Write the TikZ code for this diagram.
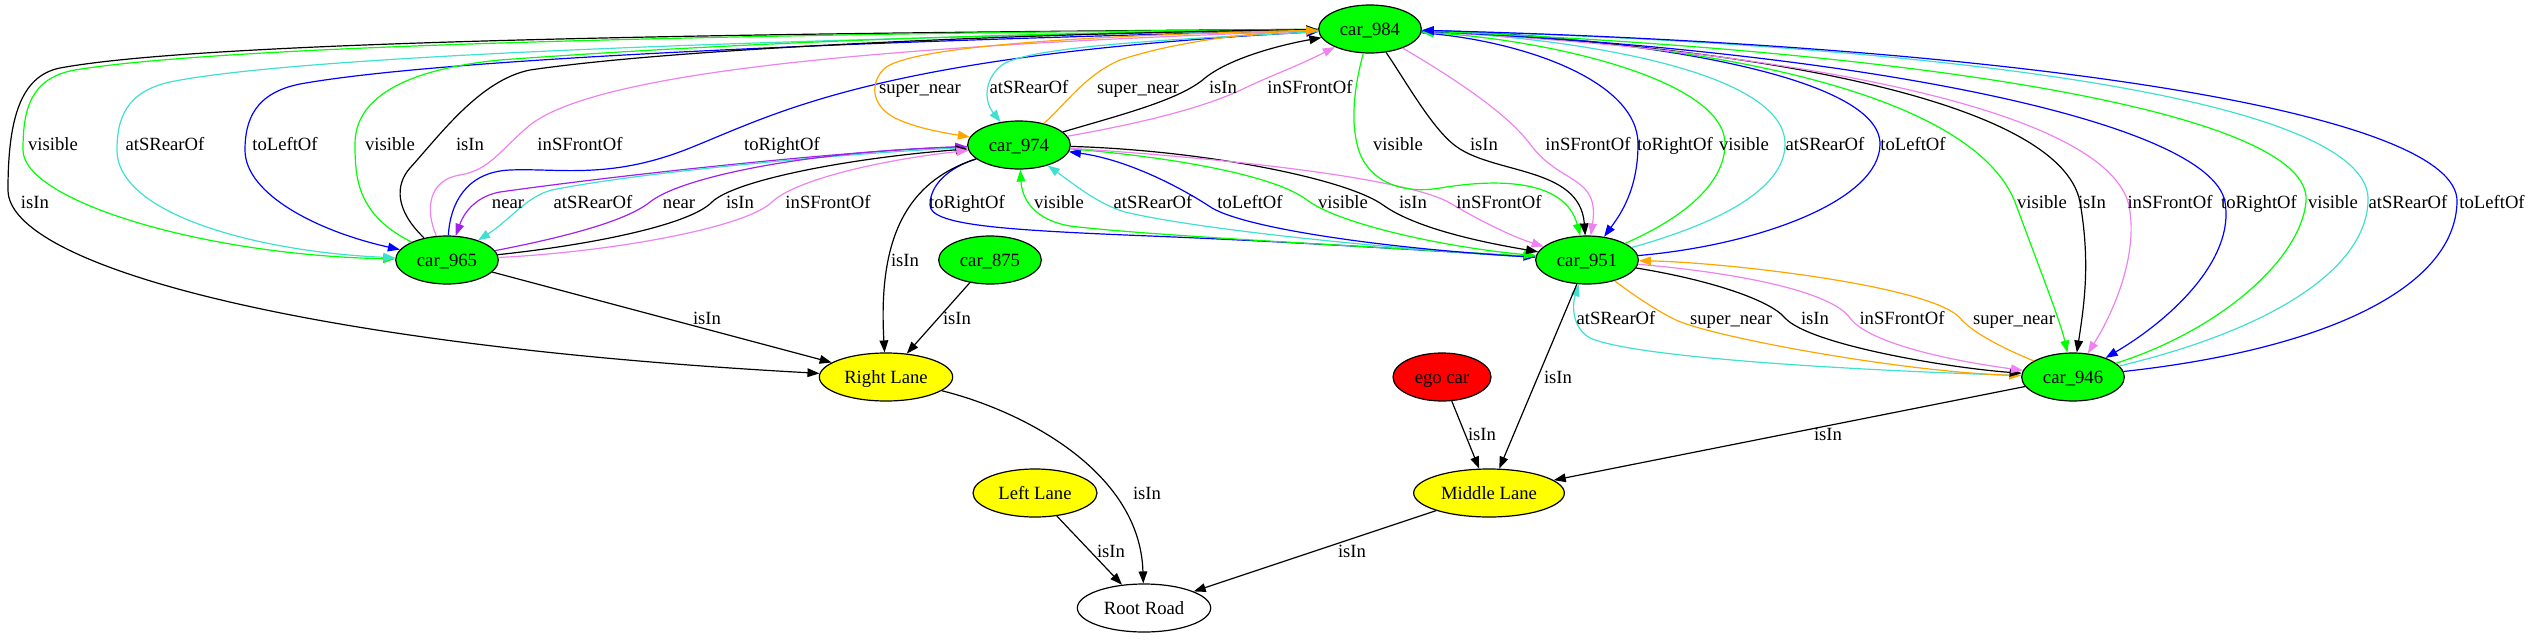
\documentclass[tikz,border=0pt]{standalone}
\usepackage{fontspec}
\setmainfont{Liberation Serif}
\usetikzlibrary{shapes.geometric,arrows.meta}
\definecolor{gvgreen}{HTML}{00FF00}
\definecolor{gvturq}{HTML}{40E0D0}
\definecolor{gvblue}{HTML}{0000FF}
\definecolor{gvviolet}{HTML}{EE82EE}
\definecolor{gvorange}{HTML}{FFA500}
\definecolor{gvpurple}{HTML}{A020F0}
\definecolor{gvyellow}{HTML}{FFFF00}
\definecolor{gvred}{HTML}{FF0000}
\begin{document}
\begin{tikzpicture}[x=0.75pt,y=-0.75pt,
  nd/.style={ellipse,draw=black,line width=0.9pt,inner sep=0pt,minimum height=36pt,
    text height=9.5pt,text depth=0.5pt,font=\fontsize{14}{16}\selectfont},
  car/.style={nd,fill=gvgreen,minimum width=77pt},
  lane/.style={nd,fill=gvyellow},
  ed/.style={line width=0.9pt,-{Triangle[length=9pt,width=6.5pt]}},
  lbl/.style={inner sep=0pt,text height=9.5pt,text depth=0.5pt,font=\fontsize{14}{16}\selectfont}]
\useasboundingbox (0,0) rectangle (2530,639);
% nodes
\node[car] (c984) at (1370,29) {car\_984};
\node[car] (c974) at (1019,145) {car\_974};
\node[car] (c965) at (447,260) {car\_965};
\node[car] (c875) at (990,260) {car\_875};
\node[car] (c951) at (1587,260) {car\_951};
\node[car] (c946) at (2073,377) {car\_946};
\node[lane,minimum width=100pt] (RL) at (886,377) {Right Lane};
\node[nd,fill=gvred,minimum width=73.5pt] (ego) at (1442,377) {ego car};
\node[lane,minimum width=93pt] (LL) at (1035,493) {Left Lane};
\node[lane,minimum width=113pt] (ML) at (1489,493) {Middle Lane};
\node[nd,fill=white,minimum width=100pt] (RR) at (1144,608) {Root Road};

% group A: car_984 <-> car_965, car_984 -> Right Lane
\draw[ed] (c984) .. controls (700,33) and (200,42) .. (60,68) .. controls (20,76) and (8,120) .. (8,190) .. controls (8,265) and (300,345) .. (RL);
\draw[ed,gvgreen] (c984) .. controls (700,34) and (220,46) .. (75,70) .. controls (30,78) and (23,110) .. (23,150) .. controls (23,200) and (200,255) .. (c965);
\draw[ed,gvturq] (c984) .. controls (800,38) and (300,55) .. (170,82) .. controls (125,92) and (117,120) .. (117,150) .. controls (117,215) and (260,252) .. (c965);
\draw[ed,gvblue] (c984) .. controls (900,40) and (450,57) .. (300,84) .. controls (255,93) and (245,120) .. (245,150) .. controls (245,195) and (320,232) .. (c965);
\draw[ed,gvgreen] (c965) .. controls (358,215) and (355,180) .. (355,144) .. controls (355,100) and (400,70) .. (500,60) .. controls (800,38) and (1100,32) .. (c984);
\draw[ed] (c965) .. controls (395,210) and (395,185) .. (410,168) .. controls (440,135) and (480,80) .. (530,70) .. controls (700,45) and (1100,32) .. (c984);
\draw[ed,gvviolet] (c965) .. controls (425,210) and (428,180) .. (460,175) .. controls (490,170) and (500,150) .. (530,125) .. controls (600,70) and (900,45) .. (c984);
\draw[ed,gvblue] (c965) .. controls (450,205) and (465,172) .. (510,170) .. controls (560,168) and (610,180) .. (690,148) .. controls (780,112) and (880,55) .. (c984);

% group B: car_984 <-> car_974
\draw[ed,gvorange] (c984) .. controls (1100,35) and (915,45) .. (885,68) .. controls (870,82) and (870,105) .. (895,118) .. controls (915,128) and (945,133) .. (c974);
\draw[ed,gvturq] (c984) .. controls (1200,38) and (1030,45) .. (1002,65) .. controls (985,78) and (983,100) .. (c974);
\draw[ed,gvorange] (c974) .. controls (1065,105) and (1085,75) .. (1120,60) .. controls (1180,40) and (1260,32) .. (c984);
\draw[ed] (c974) .. controls (1120,115) and (1180,100) .. (1205,78) .. controls (1230,58) and (1280,45) .. (c984);
\draw[ed,gvviolet] (c974) .. controls (1130,125) and (1200,110) .. (1245,88) .. controls (1270,76) and (1300,65) .. (c984);

% group C: car_974 <-> car_965
\draw[ed,gvpurple] (c974) .. controls (850,150) and (620,175) .. (500,192) .. controls (478,196) and (465,210) .. (c965);
\draw[ed,gvturq] (c974) .. controls (850,153) and (640,172) .. (552,190) .. controls (527,196) and (510,220) .. (c965);
\draw[ed,gvpurple] (c965) .. controls (560,238) and (625,222) .. (650,202) .. controls (680,178) and (800,152) .. (c974);
\draw[ed] (c965) .. controls (590,245) and (690,225) .. (712,202) .. controls (735,180) and (850,158) .. (c974);
\draw[ed,gvviolet] (c965) .. controls (610,252) and (745,228) .. (772,202) .. controls (795,180) and (880,160) .. (c974);

% group D: car_974 <-> car_951
\draw[ed,gvblue] (c974) .. controls (948,168) and (930,185) .. (930,205) .. controls (930,225) and (1000,230) .. (1150,236) .. controls (1300,242) and (1450,252) .. (c951);
\draw[ed,gvgreen] (c951) .. controls (1400,248) and (1150,236) .. (1070,226) .. controls (1035,220) and (1022,200) .. (c974);
\draw[ed,gvturq] (c951) .. controls (1400,250) and (1200,230) .. (1125,212) .. controls (1098,204) and (1075,185) .. (c974);
\draw[ed,gvblue] (c951) .. controls (1400,250) and (1250,230) .. (1212,208) .. controls (1185,190) and (1130,160) .. (c974);
\draw[ed,gvgreen] (c974) .. controls (1150,155) and (1270,172) .. (1307,200) .. controls (1340,225) and (1450,248) .. (c951);
\draw[ed] (c974) .. controls (1200,150) and (1345,178) .. (1383,205) .. controls (1415,228) and (1480,242) .. (c951);
\draw[ed,gvviolet] (c974) .. controls (1250,160) and (1410,180) .. (1450,203) .. controls (1475,218) and (1510,236) .. (c951);

% group E: to Right Lane
\draw[ed] (c974) .. controls (905,182) and (878,240) .. (RL);
\draw[ed] (c875) -- (RL);
\draw[ed] (c965) -- (RL);

% group F: car_984 <-> car_951
\draw[ed,gvgreen] (c984) .. controls (1356,80) and (1350,115) .. (1357,144) .. controls (1365,180) and (1400,195) .. (1440,188) .. controls (1500,178) and (1565,180) .. (c951);
\draw[ed] (c984) .. controls (1405,80) and (1430,125) .. (1453,144) .. controls (1490,175) and (1580,165) .. (c951);
\draw[ed,gvviolet] (c984) .. controls (1440,70) and (1505,110) .. (1530,144) .. controls (1560,185) and (1600,175) .. (c951);
\draw[ed,gvblue] (c984) .. controls (1520,40) and (1638,80) .. (1638,144) .. controls (1638,190) and (1620,215) .. (c951);
\draw[ed,gvgreen] (c951) .. controls (1690,215) and (1725,180) .. (1725,144) .. controls (1725,80) and (1550,40) .. (c984);
\draw[ed,gvturq] (c951) .. controls (1730,220) and (1785,185) .. (1785,144) .. controls (1785,70) and (1570,38) .. (c984);
\draw[ed,gvblue] (c951) .. controls (1760,245) and (1880,200) .. (1880,144) .. controls (1880,70) and (1600,35) .. (c984);

% group G: car_984 <-> car_946
\draw[ed,gvgreen] (c984) .. controls (1700,40) and (1970,90) .. (2015,202) .. controls (2040,270) and (2060,320) .. (c946);
\draw[ed] (c984) .. controls (1750,45) and (2060,100) .. (2080,202) .. controls (2090,260) and (2085,300) .. (c946);
\draw[ed,gvviolet] (c984) .. controls (1800,50) and (2100,110) .. (2128,202) .. controls (2140,250) and (2115,310) .. (c946);
\draw[ed,gvblue] (c984) .. controls (1850,50) and (2210,120) .. (2225,202) .. controls (2235,260) and (2170,320) .. (c946);
\draw[ed,gvgreen] (c946) .. controls (2220,330) and (2300,260) .. (2306,202) .. controls (2315,110) and (1900,50) .. (c984);
\draw[ed,gvturq] (c946) .. controls (2270,330) and (2365,270) .. (2368,202) .. controls (2375,100) and (1950,45) .. (c984);
\draw[ed,gvblue] (c946) .. controls (2320,350) and (2455,290) .. (2457,202) .. controls (2460,110) and (2000,45) .. (c984);

% group H: car_951 <-> car_946
\draw[ed,gvturq] (c946) .. controls (1900,372) and (1640,360) .. (1590,338) .. controls (1572,328) and (1572,305) .. (c951);
\draw[ed,gvorange] (c951) .. controls (1640,300) and (1660,312) .. (1672,318) .. controls (1700,335) and (1900,372) .. (c946);
\draw[ed] (c951) .. controls (1710,280) and (1770,300) .. (1785,318) .. controls (1810,345) and (1950,368) .. (c946);
\draw[ed,gvviolet] (c951) .. controls (1730,272) and (1830,290) .. (1850,318) .. controls (1870,345) and (1960,362) .. (c946);
\draw[ed,gvorange] (c946) .. controls (1995,345) and (1970,330) .. (1960,318) .. controls (1930,285) and (1720,262) .. (c951);

% group I: lanes and road
\draw[ed] (c951) -- (ML);
\draw[ed] (ego) -- (ML);
\draw[ed] (c946) -- (ML);
\draw[ed] (RL) .. controls (1020,410) and (1140,470) .. (RR);
\draw[ed] (LL) -- (RR);
\draw[ed] (ML) -- (RR);

% labels
\node[lbl] (la1) at (53,144) {visible};
\node[lbl] (la2) at (165,144) {atSRearOf};
\node[lbl] (la3) at (285,144) {toLeftOf};
\node[lbl] (la4) at (390,144) {visible};
\node[lbl] (la5) at (470,144) {isIn};
\node[lbl] (la6) at (580,144) {inSFrontOf};
\node[lbl] (la7) at (782,144) {toRightOf};
\node[lbl] (la8) at (35,202) {isIn};
\node[lbl] (lb1) at (920,87) {super\_near};
\node[lbl] (lb2) at (1029,87) {atSRearOf};
\node[lbl] (lb3) at (1138,87) {super\_near};
\node[lbl] (lb4) at (1223,87) {isIn};
\node[lbl] (lb5) at (1310,87) {inSFrontOf};
\node[lbl] (lc1) at (508,202) {near};
\node[lbl] (lc2) at (593,202) {atSRearOf};
\node[lbl] (lc3) at (679,202) {near};
\node[lbl] (lc4) at (740,202) {isIn};
\node[lbl] (lc5) at (828,202) {inSFrontOf};
\node[lbl] (ld1) at (967,202) {toRightOf};
\node[lbl] (ld2) at (1059,202) {visible};
\node[lbl] (ld3) at (1153,202) {atSRearOf};
\node[lbl] (ld4) at (1250,202) {toLeftOf};
\node[lbl] (ld5) at (1343,202) {visible};
\node[lbl] (ld6) at (1413,202) {isIn};
\node[lbl] (ld7) at (1499,202) {inSFrontOf};
\node[lbl] (le1) at (905,260) {isIn};
\node[lbl] (le2) at (957,318) {isIn};
\node[lbl] (le3) at (707,318) {isIn};
\node[lbl] (lf1) at (1398,144) {visible};
\node[lbl] (lf2) at (1484,144) {isIn};
\node[lbl] (lf3) at (1588,144) {inSFrontOf};
\node[lbl] (lf4) at (1675,144) {toRightOf};
\node[lbl] (lf5) at (1744,144) {visible};
\node[lbl] (lf6) at (1825,144) {atSRearOf};
\node[lbl] (lf7) at (1913,144) {toLeftOf};
\node[lbl] (lg1) at (2042,202) {visible};
\node[lbl] (lg2) at (2092,202) {isIn};
\node[lbl] (lg3) at (2170,202) {inSFrontOf};
\node[lbl] (lg4) at (2259,202) {toRightOf};
\node[lbl] (lg5) at (2333,202) {visible};
\node[lbl] (lg6) at (2408,202) {atSRearOf};
\node[lbl] (lg7) at (2492,202) {toLeftOf};
\node[lbl] (lh1) at (1616,318) {atSRearOf};
\node[lbl] (lh2) at (1731,318) {super\_near};
\node[lbl] (lh3) at (1815,318) {isIn};
\node[lbl] (lh4) at (1902,318) {inSFrontOf};
\node[lbl] (lh5) at (2014,318) {super\_near};
\node[lbl] (li1) at (1558,377) {isIn};
\node[lbl] (li2) at (1482,434) {isIn};
\node[lbl] (li3) at (1828,434) {isIn};
\node[lbl] (li4) at (1147,493) {isIn};
\node[lbl] (li5) at (1111,551) {isIn};
\node[lbl] (li6) at (1352,551) {isIn};
\end{tikzpicture}
\end{document}
